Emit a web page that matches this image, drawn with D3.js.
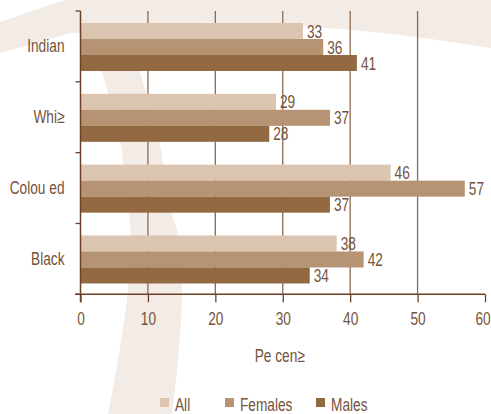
<!DOCTYPE html>
<html>
<head>
<meta charset="utf-8">
<script src="https://cdn.jsdelivr.net/npm/d3@7/dist/d3.min.js"></script>
<style>
  html, body { margin: 0; padding: 0; background: #ffffff; }
  svg { display: block; }
  text { font-family: "Liberation Sans", Arial, sans-serif; }
</style>
</head>
<body>
<svg id="chart" width="491" height="414"></svg>
<script>
// Population groups, top to bottom
const categories = ["Indian", "Whi≥", "Colou ed", "Black"];
// Series shown inside each group
const series = ["All", "Females", "Males"];
// Percentages per group, in series order
const allValues     = [33, 29, 46, 38];
const femaleValues  = [36, 37, 57, 42];
const maleValues    = [41, 28, 37, 34];
const xTicks = [0, 10, 20, 30, 40, 50, 60];
const xTitle = "Pe cen≥";

const colors = { All: "#dbc4b0", Females: "#b69373", Males: "#936942" };
const textColor = "#75533c";
const axisColor = "#6b4024";
const gridColor = "#8c6a52";
const K = 0.74;          // horizontal squeeze for a condensed look
const FS = 18.5;

// Squeeze text horizontally while keeping its anchor point in place
function condense(sel) {
  sel.each(function () {
    const t = d3.select(this);
    const x0 = +(t.attr("x") || 0);
    t.attr("x", x0 / K).attr("transform", `scale(${K},1)`);
  });
}

const rows = categories.map((c, i) => ({
  category: c,
  values: [
    { key: "All", value: allValues[i] },
    { key: "Females", value: femaleValues[i] },
    { key: "Males", value: maleValues[i] }
  ]
}));

const svg = d3.select("#chart");

// Decorative brush-stroke backdrop
const bg = svg.append("g");
const smooth = d3.line().curve(d3.curveCatmullRom.alpha(0.5));
const archLower = [[491, 48], [400, 35], [300, 26], [230, 23], [170, 24], [135, 30]];
const stemRight = [[135, 30], [140, 72], [152, 110], [161, 150], [168, 200], [178, 235], [182, 290], [178, 360], [172, 414]];
const stemLeft  = [[108, 414], [118, 360], [128, 290], [131, 235], [127, 200], [120, 140], [110, 100], [100, 65], [92, 40]];
const leftLower = [[92, 40], [80, 33], [40, 42], [0, 53]];
const d = "M0,22 C25,14 45,6 65,0 L491,0 " +
  smooth(archLower).slice(1) + " " +
  smooth(stemRight).replace(/^M/, "L") + " L108,414 " +
  smooth(stemLeft).replace(/^M/, "L") + " " +
  smooth(leftLower).replace(/^M/, "L") + " Z";
bg.append("path").attr("d", d).attr("fill", "#f3ebe5");

// Scales
const x = d3.scaleLinear().domain([0, 60]).range([80.5, 485]);
const y = d3.scaleBand().domain(categories).range([11, 294.3]).padding(0);
const yInner = d3.scaleBand().domain(series).range([12, 60]).padding(0);

const plotTop = y.range()[0], plotBottom = y.range()[1];

// Vertical grid lines
svg.append("g").selectAll("line")
  .data(xTicks.filter(t => t > 0 && t < 60))
  .join("line")
  .attr("x1", d => x(d)).attr("x2", d => x(d))
  .attr("y1", plotTop).attr("y2", plotBottom)
  .attr("stroke", gridColor).attr("stroke-width", 1.3);

// Bars
const groups = svg.append("g").selectAll("g")
  .data(rows).join("g")
  .attr("transform", d => `translate(0,${y(d.category)})`);

groups.selectAll("rect")
  .data(d => d.values).join("rect")
  .attr("x", x(0))
  .attr("y", d => yInner(d.key))
  .attr("width", d => x(d.value) - x(0))
  .attr("height", yInner.bandwidth())
  .attr("fill", d => colors[d.key]);

// Value labels
groups.selectAll("text")
  .data(d => d.values).join("text")
  .attr("x", d => x(d.value) + 4)
  .attr("y", d => yInner(d.key) + yInner.bandwidth() / 2)
  .attr("dy", "0.36em")
  .attr("font-size", FS)
  .attr("fill", textColor)
  .text(d => d.value)
  .call(condense);

// Bottom axis
const xAxis = d3.axisBottom(x).tickValues(xTicks).tickSize(8).tickPadding(10);
const gx = svg.append("g")
  .attr("transform", `translate(0,${plotBottom})`)
  .call(xAxis);
gx.select(".domain").remove();
gx.append("line")
  .attr("x1", 75).attr("x2", x(60))
  .attr("stroke", axisColor).attr("stroke-width", 1.5);
gx.selectAll(".tick line").attr("stroke", axisColor).attr("stroke-width", 1.3);
gx.selectAll(".tick text")
  .attr("font-size", FS).attr("fill", textColor)
  .attr("font-family", null)
  .attr("x", d => (d === 60 ? -2.5 : 0))
  .call(condense);

// Left axis
const yAxis = d3.axisLeft(y).tickSize(0).tickPadding(16);
const gy = svg.append("g")
  .attr("transform", `translate(${x(0)},0)`)
  .call(yAxis);
gy.select(".domain").remove();
gy.append("line")
  .attr("y1", plotTop).attr("y2", plotBottom + 8)
  .attr("stroke", axisColor).attr("stroke-width", 1.5);
gy.selectAll(".tick text")
  .attr("font-size", FS).attr("fill", textColor)
  .attr("font-family", null)
  .call(condense);
// Boundary ticks between groups
gy.selectAll("line.sep")
  .data(categories.map(c => y(c)).concat([plotBottom]))
  .join("line").attr("class", "sep")
  .attr("x1", -5).attr("x2", 0)
  .attr("y1", d => d).attr("y2", d => d)
  .attr("stroke", axisColor).attr("stroke-width", 1.3);

// Axis title
svg.append("text")
  .attr("x", (x(0) + x(60)) / 2 - 3)
  .attr("y", 362)
  .attr("text-anchor", "middle")
  .attr("font-size", FS)
  .attr("fill", textColor)
  .text(xTitle)
  .call(condense);

// Legend
const legendItems = [
  { key: "All", sx: 160 },
  { key: "Females", sx: 225 },
  { key: "Males", sx: 316 }
];
const lg = svg.append("g").selectAll("g")
  .data(legendItems).join("g")
  .attr("transform", d => `translate(${d.sx},398)`);
lg.append("rect")
  .attr("width", 9).attr("height", 9)
  .attr("fill", d => colors[d.key]);
lg.append("text")
  .attr("x", 15).attr("y", 13)
  .attr("font-size", FS)
  .attr("fill", textColor)
  .text(d => d.key)
  .call(condense);
</script>
</body>
</html>
